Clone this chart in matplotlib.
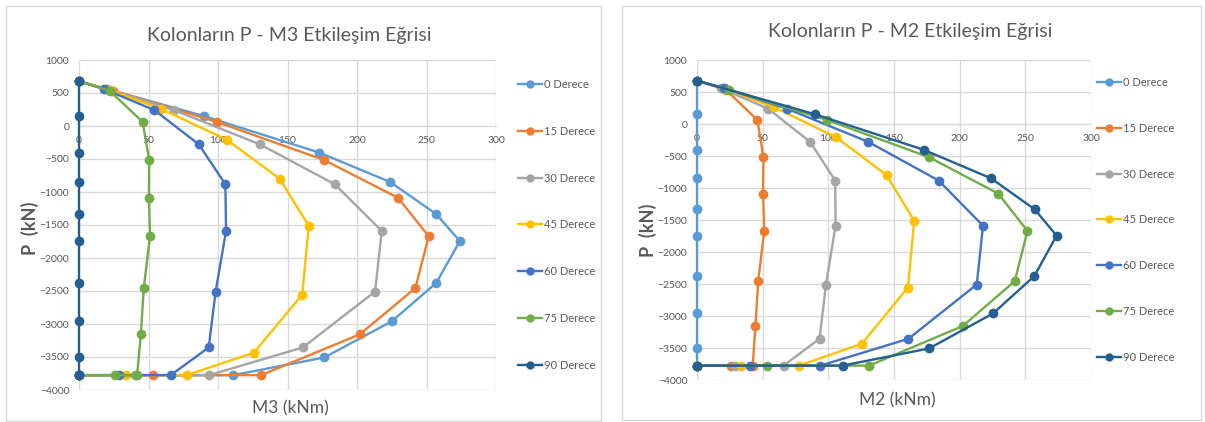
import matplotlib.pyplot as plt
from matplotlib.patches import Rectangle
from matplotlib.lines import Line2D

plt.rcParams['font.family'] = ['Lato', 'DejaVu Sans']

# data (P in kN, moments in kNm)
angles = ['0 Derece', '15 Derece', '30 Derece', '45 Derece', '60 Derece', '75 Derece', '90 Derece']
colors = ['#5B9BD5', '#ED7D31', '#A5A5A5', '#FFC000', '#4472C4', '#70AD47', '#255E91']

p_0 = [677, 150, -404, -850, -1335, -1745, -2378, -2960, -3507, -3775, -3775]
p_15 = [677, 535, 62, -518, -1088, -1670, -2455, -3157, -3775, -3775, -3775]
p_30 = [677, 560, 240, -278, -883, -1590, -2508, -3356, -3775, -3775, -3775]
p_45 = [677, 545, 260, -210, -798, -1513, -2555, -3435, -3775, -3775, -3775]
p_60 = [677, 560, 240, -278, -883, -1590, -2508, -3356, -3775, -3775, -3775]
p_75 = [677, 535, 62, -518, -1088, -1670, -2455, -3157, -3775, -3775, -3775]
p_90 = [677, 150, -404, -850, -1335, -1745, -2378, -2960, -3507, -3775, -3775]

m3_0 = [0, 90, 173, 224, 257, 274, 257, 225, 176.5, 111, 0]
m3_15 = [0, 24.6, 99.2, 176.6, 229.5, 251.6, 242, 202, 131, 53.2, 0]
m3_30 = [0, 20, 68.4, 130.2, 184, 217.8, 213, 161, 93.6, 40.5, 0]
m3_45 = [0, 22, 59, 106.5, 144.3, 165.3, 160.6, 125.8, 77.4, 33.7, 0]
m3_60 = [0, 18, 54.3, 86.2, 105.3, 105.8, 98.3, 93.3, 66, 28.8, 0]
m3_75 = [0, 22, 45.8, 50.5, 50.3, 51.1, 46.6, 44.5, 41.8, 25.6, 0]
m3_90 = [0, 0, 0, 0, 0, 0, 0, 0, 0, 0, 0]

m2_0 = [0, 0, 0, 0, 0, 0, 0, 0, 0, 0, 0]
m2_15 = [0, 22, 46, 50.6, 50.3, 51.2, 46.6, 44.5, 42.4, 25.6, 0]
m2_30 = [0, 18, 54.1, 86.1, 105.2, 105.5, 98.2, 93.3, 65.9, 28.8, 0]
m2_45 = [0, 22, 59, 106.2, 144.3, 165.4, 160.6, 125.5, 77.6, 33.8, 0]
m2_60 = [0, 20.3, 68.4, 130.3, 184, 217.8, 213, 161, 94, 40.5, 0]
m2_75 = [0, 24.6, 99.1, 176.6, 229.4, 251.6, 242, 202.3, 131.1, 53, 0]
m2_90 = [0, 90.2, 172.8, 224, 257.2, 273.8, 256.8, 225.4, 176.7, 110.9, 0]

p_all = [p_0, p_15, p_30, p_45, p_60, p_75, p_90]
m3_all = [m3_0, m3_15, m3_30, m3_45, m3_60, m3_75, m3_90]
m2_all = [m2_0, m2_15, m2_30, m2_45, m2_60, m2_75, m2_90]

txt = '#595959'
grid = '#D9D9D9'

fig = plt.figure(figsize=(12.05, 4.22), dpi=100)
W, H = 1205, 422

# chart area borders
for x0, x1, y0, y1 in [(6, 601, 6, 421), (622, 1201, 6, 420)]:
    fig.patches.append(Rectangle((x0 / W, 1 - y1 / H), (x1 - x0) / W, (y1 - y0) / H,
                                 transform=fig.transFigure, fill=False,
                                 edgecolor=grid, linewidth=1))


def draw(rect, mom, title, xlabel, title_xy, xlabel_xy, ylabel_xy, leg_xy, spacing):
    ax = fig.add_axes(rect)
    for m, p, c in zip(mom, p_all, colors):
        ax.plot(m, p, color=c, linewidth=1.7, marker='o', markersize=6, clip_on=False)
    ax.set_xlim(0, 300)
    ax.set_ylim(-4000, 1000)
    ax.set_xticks(range(0, 301, 50))
    ax.set_yticks(range(-4000, 1001, 500))
    ax.grid(True, color=grid, linewidth=1)
    ax.set_axisbelow(True)
    for s in ['top', 'right', 'left']:
        ax.spines[s].set_visible(False)
    ax.spines['bottom'].set_position(('data', 0))
    ax.spines['bottom'].set_color(grid)
    ax.spines['bottom'].set_zorder(0.5)
    ax.tick_params(length=0, labelsize=7.5, labelcolor=txt)
    ax.tick_params(axis='x', pad=7)
    ax.tick_params(axis='y', pad=7)
    fig.text(title_xy[0] / W, 1 - title_xy[1] / H, title, ha='center', va='center',
             fontsize=14, color=txt)
    fig.text(xlabel_xy[0] / W, 1 - xlabel_xy[1] / H, xlabel, ha='center', va='center',
             fontsize=12.5, color=txt)
    fig.text(ylabel_xy[0] / W, 1 - ylabel_xy[1] / H, 'P  (kN)', ha='center', va='center',
             fontsize=13, color=txt, rotation=90, fontweight='bold')
    handles = [Line2D([], [], color=c, linewidth=1.7, marker='o', markersize=5) for c in colors]
    fig.legend(handles, angles, loc='upper left',
               bbox_to_anchor=(leg_xy[0] / W, 1 - leg_xy[1] / H),
               frameon=False, fontsize=8, labelcolor=txt, handlelength=2.2,
               handletextpad=0.15, labelspacing=spacing, borderpad=0, borderaxespad=0)
    return ax


draw([79 / W, 1 - 390 / H, (496 - 79) / W, 330 / H], m3_all,
     'Kolonların P - M3 Etkileşim Eğrisi', 'M3 (kNm)',
     (289, 35), (290, 408), (30, 228), (518, 79), 3.22)
draw([697 / W, 1 - 380 / H, (1091 - 697) / W, 320 / H], m2_all,
     'Kolonların P - M2 Etkileşim Eğrisi', 'M2 (kNm)',
     (910, 32), (897, 400), (648, 230), (1097, 77), 3.13)

plt.savefig('out.png', dpi=100)
